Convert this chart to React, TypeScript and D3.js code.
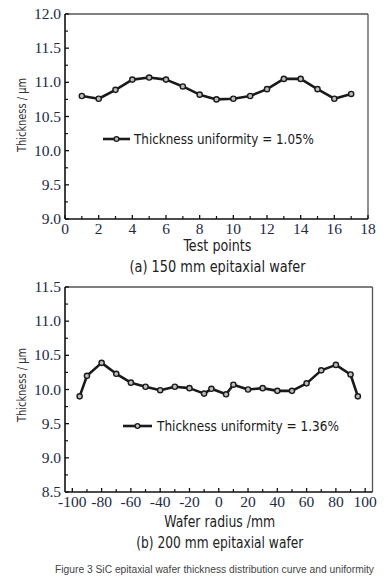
import React from "react";
import * as d3 from "d3";

const testPoints = [1, 2, 3, 4, 5, 6, 7, 8, 9, 10, 11, 12, 13, 14, 15, 16, 17];
const thickness150 = [10.8, 10.76, 10.89, 11.04, 11.07, 11.04, 10.94, 10.82, 10.75, 10.76, 10.8, 10.9, 11.05, 11.05, 10.9, 10.76, 10.83];

const radius200 = [-95, -90, -80, -70, -60, -50, -40, -30, -20, -10, -5, 5, 10, 20, 30, 40, 50, 60, 70, 80, 90, 95];
const thickness200 = [9.9, 10.2, 10.39, 10.23, 10.1, 10.04, 9.99, 10.04, 10.02, 9.94, 10.01, 9.93, 10.07, 10.0, 10.02, 9.98, 9.98, 10.09, 10.28, 10.36, 10.22, 9.9];

const xTicks1 = [0, 2, 4, 6, 8, 10, 12, 14, 16, 18];
const xMinor1 = [1, 3, 5, 7, 9, 11, 13, 15, 17];
const yTicks1 = [9.0, 9.5, 10.0, 10.5, 11.0, 11.5, 12.0];
const yMinor1 = [9.25, 9.75, 10.25, 10.75, 11.25, 11.75];

const xTicks2 = [-100, -80, -60, -40, -20, 0, 20, 40, 60, 80, 100];
const xMinor2 = [-90, -70, -50, -30, -10, 10, 30, 50, 70, 90];
const yTicks2 = [8.5, 9.0, 9.5, 10.0, 10.5, 11.0, 11.5];
const yMinor2 = [8.75, 9.25, 9.75, 10.25, 10.75, 11.25];

const legend1 = "Thickness uniformity = 1.05%";
const legend2 = "Thickness uniformity = 1.36%";

const SANS = "'DejaVu Sans Condensed', 'DejaVu Sans', sans-serif";
const NARROW = "'Liberation Sans Narrow', 'Liberation Sans', sans-serif";
const SERIF = "'Liberation Serif', 'Times New Roman', serif";
const TICK_COLOR = "#1e2a45";

type PanelProps = {
  xs: number[];
  ys: number[];
  xDomain: [number, number];
  yDomain: [number, number];
  box: { x0: number; x1: number; y0: number; y1: number };
  xTicks: number[];
  xMinor: number[];
  yTicks: number[];
  yMinor: number[];
  legend: string;
  legendPos: { lx0: number; lx1: number; ly: number; tx: number; tw: number };
  xLabel: string;
  xLabelW: number;
  xLabelY: number;
  caption: string;
  captionW: number;
  captionY: number;
  yLabelCy: number;
  tickLabelY: number;
};

function Panel(p: PanelProps) {
  const { x0, x1, y0, y1 } = p.box;
  const x = d3.scaleLinear().domain(p.xDomain).range([x0, x1]);
  const y = d3.scaleLinear().domain(p.yDomain).range([y1, y0]);
  const line = d3
    .line<number>()
    .x((_, i) => x(p.xs[i]))
    .y((d) => y(d));
  const cx = (x0 + x1) / 2 + 1;
  return (
    <g>
      <line x1={x0} x2={x1} y1={y0} y2={y0} stroke="#555" strokeWidth={1.3} />
      <line x1={x1} x2={x1} y1={y0} y2={y1} stroke="#555" strokeWidth={1.3} />
      <line x1={x0} x2={x0} y1={y0} y2={y1} stroke="#111" strokeWidth={1.6} />
      <line x1={x0} x2={x1} y1={y1} y2={y1} stroke="#111" strokeWidth={1.6} />
      {p.xTicks.map((t) => (
        <g key={"xt" + t}>
          <line x1={x(t)} x2={x(t)} y1={y1} y2={y1 - 4} stroke="#111" strokeWidth={1.3} />
          <text x={x(t)} y={p.tickLabelY} textAnchor="middle" fontFamily={SERIF} fontSize={15.5} fill={TICK_COLOR}>
            {String(t)}
          </text>
        </g>
      ))}
      {p.xMinor.map((t) => (
        <line key={"xm" + t} x1={x(t)} x2={x(t)} y1={y1} y2={y1 - 3} stroke="#111" strokeWidth={1.2} />
      ))}
      {p.yTicks.map((t) => (
        <g key={"yt" + t}>
          <line x1={x0} x2={x0 + 4} y1={y(t)} y2={y(t)} stroke="#111" strokeWidth={1.3} />
          <text x={61} y={y(t) + 5} textAnchor="end" fontFamily={SERIF} fontSize={15.5} fill={TICK_COLOR}>
            {t.toFixed(1)}
          </text>
        </g>
      ))}
      {p.yMinor.map((t) => (
        <line key={"ym" + t} x1={x0} x2={x0 + 3} y1={y(t)} y2={y(t)} stroke="#111" strokeWidth={1.2} />
      ))}
      <path d={line(p.ys) || ""} fill="none" stroke="#1a1a1a" strokeWidth={2.6} strokeLinejoin="round" />
      {p.ys.map((v, i) => (
        <circle key={"c" + i} cx={x(p.xs[i])} cy={y(v)} r={2.6} fill="#bbb" stroke="#1a1a1a" strokeWidth={1.4} />
      ))}
      <line x1={p.legendPos.lx0} x2={p.legendPos.lx1} y1={p.legendPos.ly} y2={p.legendPos.ly} stroke="#1a1a1a" strokeWidth={2.6} />
      <circle cx={(p.legendPos.lx0 + p.legendPos.lx1) / 2} cy={p.legendPos.ly} r={2.4} fill="#bbb" stroke="#1a1a1a" strokeWidth={1.3} />
      <text
        x={p.legendPos.tx}
        y={p.legendPos.ly + 5}
        fontFamily={SANS}
        fontSize={14.5}
        fill="#1a1a1a"
        textLength={p.legendPos.tw}
        lengthAdjust="spacingAndGlyphs"
      >
        {p.legend}
      </text>
      <text
        transform={`translate(26, ${p.yLabelCy}) rotate(-90)`}
        textAnchor="middle"
        fontFamily={SANS}
        fontSize={13}
        fill="#333"
        textLength={74}
        lengthAdjust="spacingAndGlyphs"
      >
        Thickness / µm
      </text>
      <text x={cx} y={p.xLabelY} textAnchor="middle" fontFamily={SANS} fontSize={15} fill="#222" textLength={p.xLabelW} lengthAdjust="spacingAndGlyphs">
        {p.xLabel}
      </text>
      <text x={cx} y={p.captionY} textAnchor="middle" fontFamily={SANS} fontSize={15} fill="#222" textLength={p.captionW} lengthAdjust="spacingAndGlyphs">
        {p.caption}
      </text>
    </g>
  );
}

export default function App() {
  return (
    <svg
      width={388}
      height={584}
      viewBox="0 0 388 584"
      style={{ position: "absolute", left: 0, top: 0, background: "#fff" }}
    >
      <rect width={388} height={584} fill="#fff" />
      <Panel
        xs={testPoints}
        ys={thickness150}
        xDomain={[0, 18]}
        yDomain={[9, 12]}
        box={{ x0: 65, x1: 368, y0: 14, y1: 219 }}
        xTicks={xTicks1}
        xMinor={xMinor1}
        yTicks={yTicks1}
        yMinor={yMinor1}
        legend={legend1}
        legendPos={{ lx0: 103, lx1: 130, ly: 139, tx: 134, tw: 180 }}
        xLabel="Test points"
        xLabelW={68}
        xLabelY={251}
        caption="(a) 150 mm epitaxial wafer"
        captionW={176}
        captionY={272}
        yLabelCy={115}
        tickLabelY={234}
      />
      <Panel
        xs={radius200}
        ys={thickness200}
        xDomain={[-105, 105]}
        yDomain={[8.5, 11.5]}
        box={{ x0: 65, x1: 372.5, y0: 287, y1: 492 }}
        xTicks={xTicks2}
        xMinor={xMinor2}
        yTicks={yTicks2}
        yMinor={yMinor2}
        legend={legend2}
        legendPos={{ lx0: 123, lx1: 152, ly: 426, tx: 157, tw: 182 }}
        xLabel="Wafer radius /mm"
        xLabelW={111}
        xLabelY={527}
        caption="(b) 200 mm epitaxial wafer"
        captionW={167}
        captionY={548}
        yLabelCy={385}
        tickLabelY={507}
      />
      <text
        x={214.5}
        y={573}
        textAnchor="middle"
        fontFamily={NARROW}
        fontSize={10}
        fill="#444"
        textLength={319}
        lengthAdjust="spacingAndGlyphs"
      >
        Figure 3 SiC epitaxial wafer thickness distribution curve and uniformity
      </text>
    </svg>
  );
}
